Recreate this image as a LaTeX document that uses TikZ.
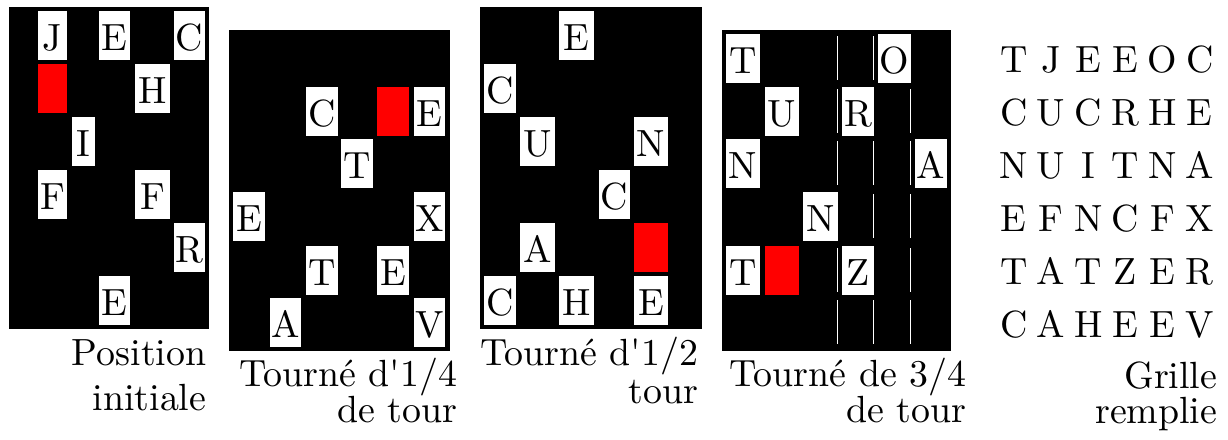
\documentclass[tikz,border=0pt]{standalone}
\begin{document}
\begin{tikzpicture}[x=0.28pt, y=-0.28pt, font=\fontsize{10.6}{12.5}\selectfont,
    lettre/.style={anchor=base, inner sep=0pt},
    legende/.style={anchor=base east, inner sep=0pt}]
  \useasboundingbox (0,0) rectangle (1228,439);
  % position initiale
  \fill[black] (9,7) rectangle (209,329);
  \foreach \xa/\xb/\y/\t [count=\i] in {38/67/11/J, 99/130/11/E, 174/205/11/C, 135/170/64/H, 72/95/117/I, 38/67/170/F, 135/170/170/F, 174/205/223/R, 99/130/276/E} {
    \fill[white] (\xa,\y) rectangle (\xb,\y+49);
    \node[lettre] (ini-\i) at ({(\xa+\xb)/2},\y+39) {\t};
  }
  \fill[red] (38,64) rectangle (67,113);
  \node[legende] (leg-ini-a) at (207,365) {Position};
  \node[legende] (leg-ini-b) at (207,410) {initiale};
  % 1/4 de tour
  \fill[black] (229,30) rectangle (450,351);
  \foreach \xa/\xb/\y/\t [count=\i] in {306/338/87/C, 414/445/87/E, 341/373/139/T, 233/265/192/E, 414/445/192/X, 306/338/246/T, 377/409/246/E, 270/301/298/A, 414/445/298/V} {
    \fill[white] (\xa,\y) rectangle (\xb,\y+49);
    \node[lettre] (quart-\i) at ({(\xa+\xb)/2},\y+39) {\t};
  }
  \fill[red] (377,87) rectangle (409,136);
  \node[legende] (leg-quart-a) at (458,386) {Tourné d\textquotesingle1/4};
  \node[legende] (leg-quart-b) at (458,422) {de tour};
  % 1/2 tour
  \fill[black] (480,7) rectangle (702,329);
  \foreach \xa/\xb/\y/\t [count=\i] in {559/594/11/E, 484/516/64/C, 520/555/117/U, 634/668/117/N, 599/630/170/C, 520/555/223/A, 484/516/276/C, 559/594/276/H, 634/668/276/E} {
    \fill[white] (\xa,\y) rectangle (\xb,\y+49);
    \node[lettre] (demi-\i) at ({(\xa+\xb)/2},\y+39) {\t};
  }
  \fill[red] (634,223) rectangle (668,272);
  \node[legende] (leg-demi-a) at (699,365) {Tourné d\textquotesingle1/2};
  \node[legende] (leg-demi-b) at (699,403) {tour};
  % 3/4 de tour
  \fill[black] (722,30) rectangle (951,351);
  \foreach \x in {837.5, 873.5, 910.5}
    \foreach \y in {34, 87, 139, 192, 246, 298}
      \draw[white, line width=0.3pt] (\x,\y+2) -- (\x,\y+46);
  \foreach \xa/\xb/\y/\t [count=\i] in {726/760/34/T, 878/911/34/O, 765/799/87/U, 842/874/87/R, 726/760/139/N, 915/947/139/A, 803/838/192/N, 726/760/246/T, 842/874/246/Z} {
    \fill[white] (\xa,\y) rectangle (\xb,\y+49);
    \node[lettre] (trois-\i) at ({(\xa+\xb)/2},\y+39) {\t};
  }
  \fill[red] (765,246) rectangle (799,295);
  \node[legende] (leg-trois-a) at (967,386) {Tourné de 3/4};
  \node[legende] (leg-trois-b) at (967,422) {de tour};
  % grille remplie
  \foreach \ligne [count=\r] in {{T,J,E,E,O,C}, {C,U,C,R,H,E}, {N,U,I,T,N,A}, {E,F,N,C,F,X}, {T,A,T,Z,E,R}, {C,A,H,E,E,V}}
    \foreach \t [count=\c] in \ligne
      \node[lettre] (fin-\r-\c) at ({976.6+37.2*\c},{19+53*\r}) {\t};
  \node[legende] (leg-fin-a) at (1218,388) {Grille};
  \node[legende] (leg-fin-b) at (1218,423) {remplie};
\end{tikzpicture}
\end{document}
